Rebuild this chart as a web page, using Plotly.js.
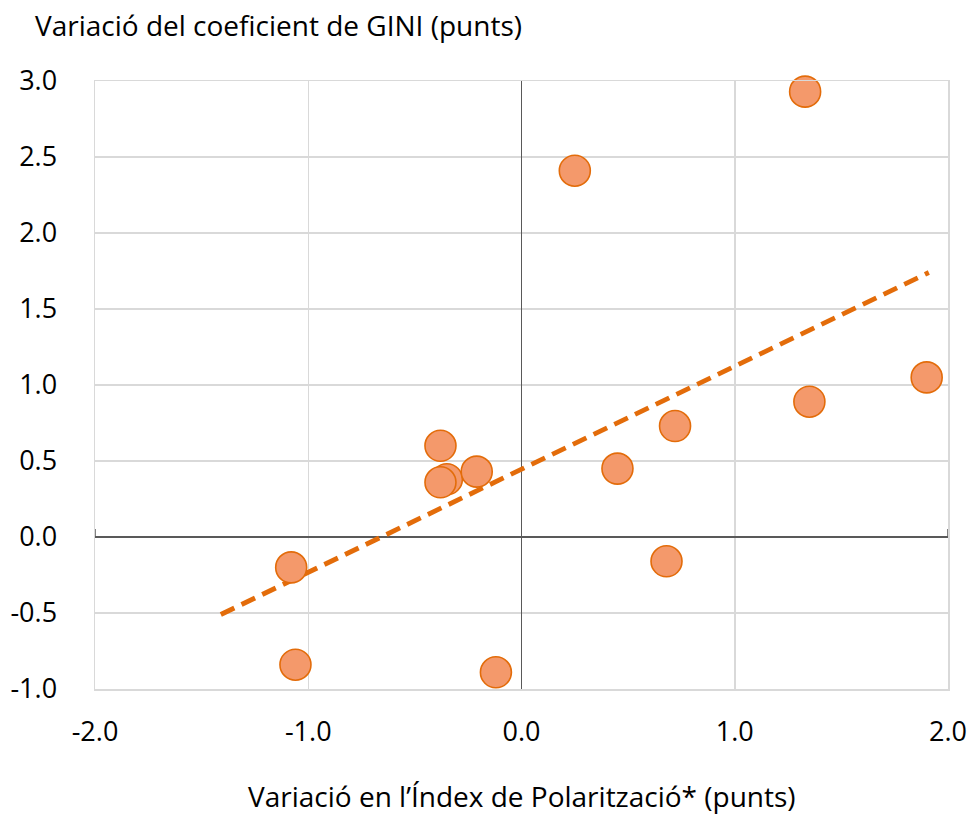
<!DOCTYPE html>
<html>
<head>
<meta charset="utf-8">
<script src="https://cdn.plot.ly/plotly-3.0.1.min.js"></script>
<style>html,body{margin:0;padding:0;background:#fff;}#chart{width:972px;height:816px;}</style>
</head>
<body>
<div id="chart"></div>
<script>
// Data
var polarX = [1.33, 0.25, 1.90, 1.35, 0.72, 0.45, 0.68, -0.38, -0.35, -0.38, -0.21, -1.08, -1.06, -0.12];
var giniY  = [2.93, 2.41, 1.05, 0.89, 0.73, 0.45, -0.16, 0.60, 0.38, 0.36, 0.43, -0.20, -0.84, -0.89];
var trendX = [-1.41, 1.91];
var trendY = [-0.51, 1.74];
var xTickVals = [-2, -1, 0, 1, 2];
var xTickText = ['-2.0', '-1.0', '0.0', '1.0', '2.0'];
var yTickVals = [-1, -0.5, 0, 0.5, 1, 1.5, 2, 2.5, 3];
var yTickText = ['-1.0', '-0.5', '0.0', '0.5', '1.0', '1.5', '2.0', '2.5', '3.0'];
var yTitle = 'Variació del coeficient de GINI (punts)';
var xTitle = 'Variació en l\u2019Índex de Polarització* (punts)';

var FONT = '"Open Sans", "Noto Sans", sans-serif';

var traces = [
  {
    x: trendX, y: trendY, type: 'scatter', mode: 'lines',
    line: {color: '#E36C0A', width: 4.8, dash: '15px,8px'},
    hoverinfo: 'skip', showlegend: false
  },
  {
    x: polarX, y: giniY, type: 'scatter', mode: 'markers',
    marker: {size: 31, color: '#F4996B', line: {color: '#E36C0A', width: 1.6}},
    showlegend: false, cliponaxis: false
  }
];

var layout = {
  width: 972, height: 816,
  paper_bgcolor: '#ffffff', plot_bgcolor: '#ffffff',
  margin: {l: 95, r: 24, t: 81, b: 127},
  font: {family: FONT, size: 27, color: '#000000'},
  showlegend: false,
  xaxis: {
    range: [-2, 2], tickvals: xTickVals, ticktext: xTickText,
    showgrid: true, gridcolor: '#D9D9D9', gridwidth: 1.5,
    zeroline: true, zerolinecolor: '#595959', zerolinewidth: 1.5,
    showline: true, mirror: true, linecolor: '#D9D9D9', linewidth: 1.5,
    ticks: '', ticklabelstandoff: 18,
    tickfont: {family: FONT, size: 27, color: '#000'}
  },
  yaxis: {
    range: [-1, 3], tickvals: yTickVals, ticktext: yTickText,
    showgrid: true, gridcolor: '#D9D9D9', gridwidth: 1.5,
    zeroline: true, zerolinecolor: '#595959', zerolinewidth: 1.5,
    showline: true, mirror: true, linecolor: '#D9D9D9', linewidth: 1.5,
    ticks: '', ticklabelstandoff: 31,
    tickfont: {family: FONT, size: 27, color: '#000'}
  },
  shapes: [
    {type: 'line', xref: 'x', yref: 'y', ysizemode: 'pixel', yanchor: 0, x0: -2, x1: -2, y0: 0, y1: 8, line: {color: '#595959', width: 1.5}},
    {type: 'line', xref: 'x', yref: 'y', ysizemode: 'pixel', yanchor: 0, x0: 2, x1: 2, y0: 0, y1: 8, line: {color: '#595959', width: 1.5}}
  ],
  annotations: [
    {text: yTitle, xref: 'paper', yref: 'paper', x: -0.073, y: 1.0, yshift: 56, xanchor: 'left', yanchor: 'middle', showarrow: false, font: {family: FONT, size: 28, color: '#000'}},
    {text: xTitle, xref: 'paper', yref: 'paper', x: 0.5, y: 0, yshift: -107, xanchor: 'center', yanchor: 'middle', showarrow: false, font: {family: FONT, size: 28, color: '#000'}}
  ]
};

Plotly.newPlot('chart', traces, layout, {displayModeBar: false, staticPlot: true});
</script>
</body>
</html>
